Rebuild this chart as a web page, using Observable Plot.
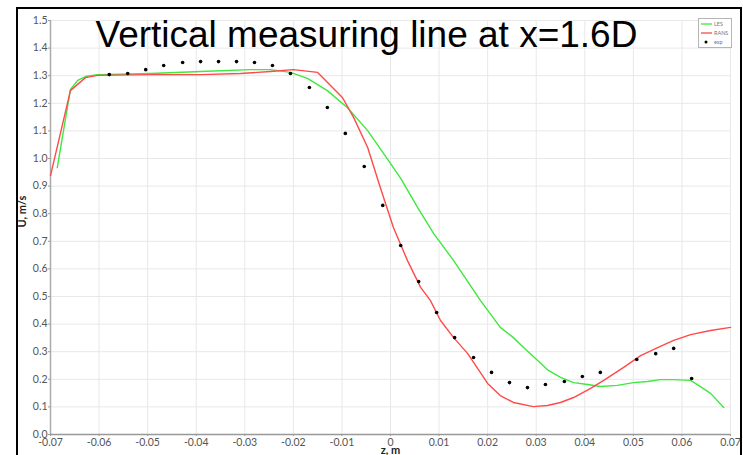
<!DOCTYPE html>
<html><head><meta charset="utf-8">
<script src="https://cdn.jsdelivr.net/npm/d3@7"></script>
<script src="https://cdn.jsdelivr.net/npm/@observablehq/plot@0.6"></script>
<style>
body{margin:0;background:#fff;}
#wrap{position:relative;width:743px;height:455px;overflow:hidden;background:#fff;}
#frame{position:absolute;left:16px;top:7px;width:726px;height:470px;border:2px solid #000;box-sizing:border-box;pointer-events:none;}
</style></head><body><div id="wrap"></div>
<script>
// LES (green)
const lesZ = [-0.0686,-0.0659,-0.0644,-0.0628,-0.0603,-0.0494,-0.0391,-0.0288,-0.0247,-0.0206,-0.0171,-0.0130,-0.0089,-0.0047,-0.0014,0.0021,0.0056,0.0089,0.0130,0.0185,0.0226,0.0253,0.0274,0.0303,0.0325,0.0350,0.0377,0.0406,0.0432,0.0467,0.0500,0.0529,0.0556,0.0583,0.0618,0.0634,0.0659,0.0686];
const lesU = [0.967,1.250,1.283,1.297,1.304,1.308,1.315,1.322,1.322,1.312,1.290,1.246,1.185,1.101,1.018,0.928,0.822,0.728,0.630,0.486,0.388,0.351,0.315,0.268,0.232,0.207,0.188,0.181,0.174,0.178,0.188,0.192,0.199,0.199,0.196,0.178,0.149,0.098];
// RANS (red)
const ransZ = [-0.0700,-0.0659,-0.0628,-0.0603,-0.0494,-0.0391,-0.0309,-0.0247,-0.0200,-0.0150,-0.0099,-0.0076,-0.0047,-0.0021,0.0006,0.0035,0.0062,0.0082,0.0103,0.0130,0.0159,0.0200,0.0226,0.0253,0.0294,0.0323,0.0350,0.0377,0.0412,0.0439,0.0480,0.0515,0.0550,0.0583,0.0618,0.0659,0.0700];
const ransU = [0.938,1.246,1.293,1.301,1.304,1.304,1.308,1.315,1.322,1.312,1.221,1.149,1.040,0.895,0.750,0.630,0.533,0.486,0.413,0.351,0.293,0.185,0.141,0.116,0.101,0.105,0.116,0.134,0.167,0.196,0.243,0.286,0.315,0.341,0.362,0.377,0.388];
// exp (black dots)
const expZ = [-0.0579,-0.0541,-0.0504,-0.0467,-0.0428,-0.0391,-0.0354,-0.0317,-0.0280,-0.0243,-0.0206,-0.0167,-0.0130,-0.0093,-0.0054,-0.0016,0.0021,0.0058,0.0095,0.0132,0.0171,0.0208,0.0245,0.0282,0.0319,0.0358,0.0395,0.0432,0.0507,0.0546,0.0583,0.0620];
const expU = [1.304,1.308,1.322,1.337,1.348,1.351,1.351,1.351,1.348,1.337,1.308,1.257,1.185,1.091,0.971,0.830,0.685,0.554,0.442,0.351,0.279,0.225,0.188,0.170,0.181,0.192,0.210,0.225,0.272,0.293,0.312,0.203];
const xTicks = [-0.07,-0.06,-0.05,-0.04,-0.03,-0.02,-0.01,0,0.01,0.02,0.03,0.04,0.05,0.06,0.07];
const xTickLabels = ["-0.07","-0.06","-0.05","-0.04","-0.03","-0.02","-0.01","0","0.01","0.02","0.03","0.04","0.05","0.06","0.07"];
const yTicks = [0,0.1,0.2,0.3,0.4,0.5,0.6,0.7,0.8,0.9,1.0,1.1,1.2,1.3,1.4,1.5];
const yTickLabels = ["0.0","0.1","0.2","0.3","0.4","0.5","0.6","0.7","0.8","0.9","1.0","1.1","1.2","1.3","1.4","1.5"];
const title = "Vertical measuring line at x=1.6D";
const xLabel = "z, m";
const yLabel = "U, m/s";
const seriesNames = ["LES","RANS","exp"];
const seriesColors = ["#3ee83e","#ff4a4a","#000000"];

const les = lesZ.map((z,i)=>({z,u:lesU[i]}));
const rans = ransZ.map((z,i)=>({z,u:ransU[i]}));
const exp = expZ.map((z,i)=>({z,u:expU[i]}));

const tickFont = "Lato, 'DejaVu Sans', sans-serif";
const chart = Plot.plot({
  width: 743, height: 455,
  marginLeft: 50, marginRight: 13, marginTop: 20, marginBottom: 21,
  style: {background: "#fff", fontFamily: tickFont},
  x: {domain: [-0.07, 0.07]},
  y: {domain: [0, 1.5]},
  marks: [
    Plot.gridX(xTicks, {stroke: "#e8e8e8", strokeOpacity: 1, strokeWidth: 1}),
    Plot.gridY(yTicks, {stroke: "#e8e8e8", strokeOpacity: 1, strokeWidth: 1}),
    Plot.axisX({ticks: xTicks, tickFormat: (d,i)=>xTickLabels[i], tickSize: 2, tickPadding: 2, fontSize: 10.5, fill: "#555", stroke: "#999", label: null}),
    Plot.axisY({ticks: yTicks, tickFormat: (d,i)=>yTickLabels[i], tickSize: 2, tickPadding: 1, fontSize: 10.5, fill: "#555", stroke: "#999", label: null}),
    Plot.ruleX([-0.07], {stroke: "#aaa", strokeWidth: 1.5}),
    Plot.ruleY([0], {stroke: "#999", strokeWidth: 1.5}),
    Plot.line(les, {x: "z", y: "u", stroke: seriesColors[0], strokeWidth: 1.4}),
    Plot.line(rans, {x: "z", y: "u", stroke: seriesColors[1], strokeWidth: 1.4}),
    Plot.dot(exp, {x: "z", y: "u", r: 1.8, fill: seriesColors[2], stroke: null}),
    Plot.text([title], {frameAnchor: "top-left", textAnchor: "start", lineAnchor: "bottom", dx: 45, dy: 26, fontSize: 37, fill: "#000", fontFamily: "'Liberation Sans', Arial, sans-serif"}),
    Plot.text([xLabel], {frameAnchor: "bottom", lineAnchor: "bottom", dy: 19.5, fontSize: 11, fontWeight: "bold", fill: "#222"}),
    Plot.text([yLabel], {frameAnchor: "left", rotate: -90, dx: -28, fontSize: 11, fontWeight: "bold", fill: "#222"})
  ]
});
const wrap = document.getElementById("wrap");
wrap.appendChild(chart);
const frame = document.createElement("div"); frame.id = "frame"; wrap.appendChild(frame);

// legend
const ns = "http://www.w3.org/2000/svg";
const lg = document.createElementNS(ns, "svg");
lg.setAttribute("width", 36); lg.setAttribute("height", 32);
lg.style.position = "absolute"; lg.style.left = "698px"; lg.style.top = "18px";
let html = `<rect x="0.5" y="0.5" width="33" height="29" fill="#fff" stroke="#b5b5b5"/>`;
seriesNames.forEach((n,i)=>{
  const yy = 6 + i*9;
  if (i < 2) html += `<line x1="3" x2="14" y1="${yy}" y2="${yy}" stroke="${seriesColors[i]}" stroke-width="1.3"/>`;
  else html += `<circle cx="8" cy="${yy}" r="1.5" fill="${seriesColors[i]}"/>`;
  html += `<text x="16" y="${yy+2}" font-size="5.5" fill="#777" font-family="Lato, sans-serif">${n}</text>`;
});
lg.innerHTML = html;
wrap.appendChild(lg);
</script></body></html>
